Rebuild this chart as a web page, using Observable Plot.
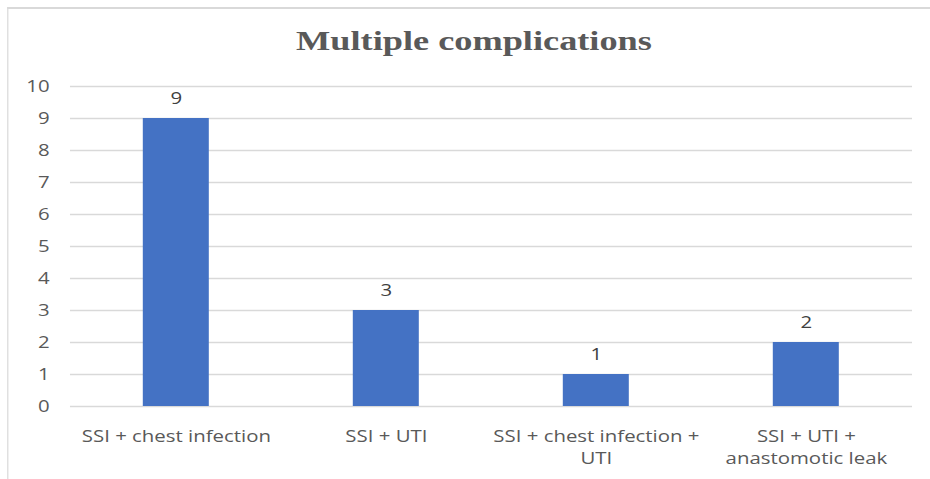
<!DOCTYPE html>
<html>
<head>
<meta charset="utf-8">
<script src="https://cdn.jsdelivr.net/npm/d3@7"></script>
<script src="https://cdn.jsdelivr.net/npm/@observablehq/plot@0.6"></script>
<style>
  html, body { margin: 0; padding: 0; background: #fff; }
  #wrap { position: relative; width: 930px; height: 479px; overflow: hidden; }
  #stage { position: absolute; left: 0; top: 0; width: 775px; height: 479px;
           transform: scaleX(1.2); transform-origin: 0 0; }
  #frame { position: absolute; left: 5.5px; top: 7px; width: 800px; height: 490px;
           border-left: 1.7px solid #d9d9d9; border-top: 2px solid #d9d9d9; }
  #title { position: absolute; left: 195px; width: 400px; top: 21px; text-align: center;
           font-family: "Liberation Serif", "DejaVu Serif", serif; font-weight: bold;
           font-size: 27px; color: #595959; line-height: 40px;
           transform: scaleX(1.12); transform-origin: 50% 50%; white-space: nowrap; }
  #chart { position: absolute; left: 0; top: 60px; }
</style>
</head>
<body>
<div id="wrap">
  <div id="stage">
    <div id="frame"></div>
    <div id="title">Multiple complications</div>
    <div id="chart"></div>
  </div>
</div>
<script>
const categories = [
  "SSI + chest infection",
  "SSI + UTI",
  "SSI + chest infection +\nUTI",
  "SSI + UTI +\nanastomotic leak"
];
const counts = [9, 3, 1, 2];
const yTicks = [0, 1, 2, 3, 4, 5, 6, 7, 8, 9, 10];

const data = categories.map((c, i) => ({category: c, count: counts[i]}));

const chart = Plot.plot({
  width: 775,
  height: 419,
  marginLeft: 58.3,
  marginRight: 15,
  marginTop: 26,
  marginBottom: 73,
  style: {fontFamily: "'Open Sans', 'Liberation Sans', sans-serif", fontSize: "17px", color: "#595959", background: "transparent"},
  x: {domain: categories, paddingInner: 0.686, paddingOuter: 0.343, label: null},
  y: {domain: [0, 10], ticks: yTicks, label: null},
  marks: [
    Plot.gridY(yTicks, {stroke: "#d9d9d9", strokeOpacity: 1, strokeWidth: 1.6}),
    Plot.axisY({ticks: yTicks, tickSize: 0, tickPadding: 17.5, fontSize: 17, fill: "#595959", label: null}),
    Plot.axisX({tickSize: 0, tickPadding: 19.5, fontSize: 17, fill: "#595959", lineHeight: 1.32, lineAnchor: "top", label: null}),
    Plot.barY(data, {x: "category", y: "count", fill: "#4472c4"}),
    Plot.text(data, {x: "category", y: "count", text: d => String(d.count), dy: -20, fontSize: 17, fill: "#404040"})
  ]
});
document.getElementById("chart").appendChild(chart);
</script>
</body>
</html>
